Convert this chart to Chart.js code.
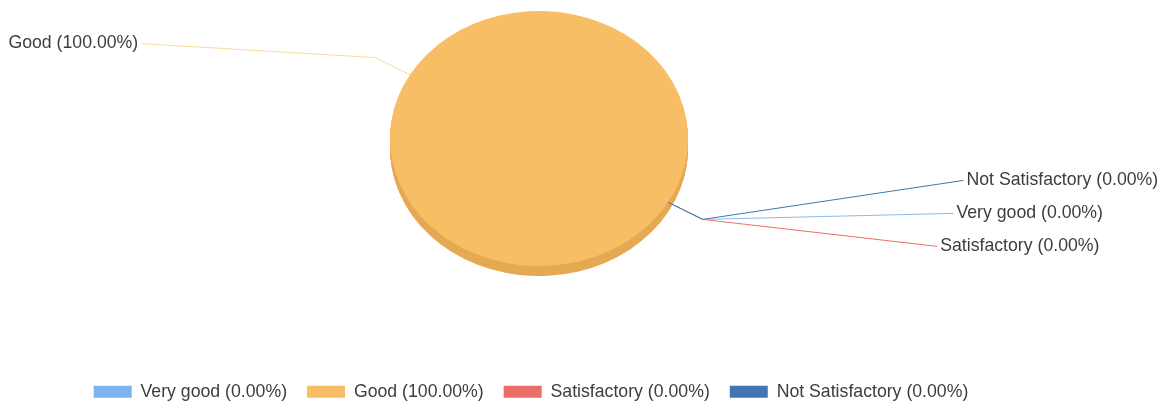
<!DOCTYPE html>
<html>
<head>
<meta charset="utf-8">
<script src="https://cdn.jsdelivr.net/npm/chart.js@4/dist/chart.umd.min.js"></script>
<style>
  html, body { margin: 0; padding: 0; background: #fff; }
  #wrap { width: 1171px; height: 405px; }
</style>
</head>
<body>
<div id="wrap"><canvas id="chart"></canvas></div>
<script>
const categories = ['Very good', 'Good', 'Satisfactory', 'Not Satisfactory'];
const shares = [0, 100, 0, 0];
const sliceColors = ['#7db4ee', '#f7be66', '#ea6d66', '#4475b3'];
const sideColors = ['#6a9fd8', '#e6a953', '#d65a54', '#35629c'];
const lineColors = ['#86bcf0', '#f6dc9a', '#e8716a', '#3f7aa6'];
// right hand labels, top to bottom, when they start from the same point
const labelStackOrder = ['Not Satisfactory', 'Very good', 'Satisfactory'];

const FONT = '"Liberation Sans", Arial, sans-serif';
const FONT_SIZE = 17.7;
const TILT = 0.856; // vertical squash of the disc
const DEPTH = 10;   // thickness of the disc, px
const LIFT = 43;    // pie sits higher than the centre of the chart area
const SHIFT = 8;    // ...and a bit right of it

const labelText = (i) => `${categories[i]} (${shares[i].toFixed(2)}%)`;

const tiltPlugin = {
  id: 'tilt',
  beforeDatasetsDraw(chart) {
    const ctx = chart.ctx;
    const arcs = chart.getDatasetMeta(0).data;
    const { x, y } = arcs[0];
    ctx.save();
    ctx.translate(x + SHIFT, y - LIFT);
    ctx.scale(1, TILT);
    ctx.translate(-x, -y);
    // side of the disc, drawn under the top face
    arcs.forEach((arc, i) => {
      if (arc.circumference <= 0) return;
      ctx.fillStyle = sideColors[i];
      for (let d = DEPTH; d > 0; d--) {
        const yy = arc.y + d / TILT;
        ctx.beginPath();
        ctx.moveTo(arc.x, yy);
        ctx.arc(arc.x, yy, arc.outerRadius, arc.startAngle, arc.endAngle);
        ctx.closePath();
        ctx.fill();
      }
    });
  },
  afterDatasetsDraw(chart) {
    chart.ctx.restore();
  },
};

const labelPlugin = {
  id: 'sliceLabels',
  afterDraw(chart) {
    const ctx = chart.ctx;
    const arcs = chart.getDatasetMeta(0).data;
    const cx = arcs[0].x + SHIFT;
    const cy = arcs[0].y - LIFT;
    const items = arcs.map((arc, i) => {
      const mid = (arc.startAngle + arc.endAngle) / 2;
      const r = arc.outerRadius;
      const right = Math.cos(mid) >= 0;
      const edge = { x: cx + r * Math.cos(mid), y: cy + TILT * r * Math.sin(mid) };
      const elbow = {
        x: cx + (r + 40) * Math.cos(mid),
        y: cy + TILT * (r + 40) * Math.sin(mid),
      };
      return { i, edge, elbow, right, y: elbow.y + (right ? -6 : -14) };
    });

    [true, false].forEach((side) => {
      const group = items
        .filter((it) => it.right === side)
        .sort((a, b) =>
          a.y - b.y ||
          labelStackOrder.indexOf(categories[a.i]) - labelStackOrder.indexOf(categories[b.i])
        );
      if (!group.length) return;
      const center = group.reduce((s, it) => s + it.y, 0) / group.length;
      group.forEach((it, j) => {
        it.y = center + (j - (group.length - 1) / 2) * 33;
        const dy = (it.y - cy) / 290;
        it.x = cx + (side ? 429 : -421) * Math.sqrt(1 - dy * dy);
      });
    });

    ctx.save();
    ctx.lineWidth = 1;
    ctx.font = `${FONT_SIZE}px ${FONT}`;
    ctx.textBaseline = 'middle';
    ctx.fillStyle = '#3d3d3d';
    [1, 2, 0, 3].forEach((i) => {
      const it = items[i];
      ctx.strokeStyle = lineColors[i];
      ctx.beginPath();
      ctx.moveTo(it.edge.x, it.edge.y);
      ctx.lineTo(it.elbow.x, it.elbow.y);
      ctx.lineTo(it.x, it.y);
      ctx.stroke();
      ctx.textAlign = it.right ? 'left' : 'right';
      ctx.fillText(labelText(i), it.x + (it.right ? 3 : -3), it.y);
    });
    ctx.restore();
  },
};

new Chart(document.getElementById('chart'), {
  type: 'pie',
  data: {
    labels: categories.map((c, i) => labelText(i)),
    datasets: [
      {
        data: shares,
        backgroundColor: sliceColors,
        borderWidth: 0,
        clip: false,
      },
    ],
  },
  options: {
    responsive: true,
    maintainAspectRatio: false,
    animation: false,
    rotation: 120,
    radius: 149,
    layout: { padding: { right: 109 } },
    plugins: {
      legend: {
        position: 'bottom',
        maxHeight: 42,
        labels: {
          boxWidth: 38,
          boxHeight: 12,
          padding: 20,
          color: '#3d3d3d',
          font: { size: FONT_SIZE, family: FONT },
        },
      },
      tooltip: { enabled: false },
    },
  },
  plugins: [tiltPlugin, labelPlugin],
});
</script>
</body>
</html>
